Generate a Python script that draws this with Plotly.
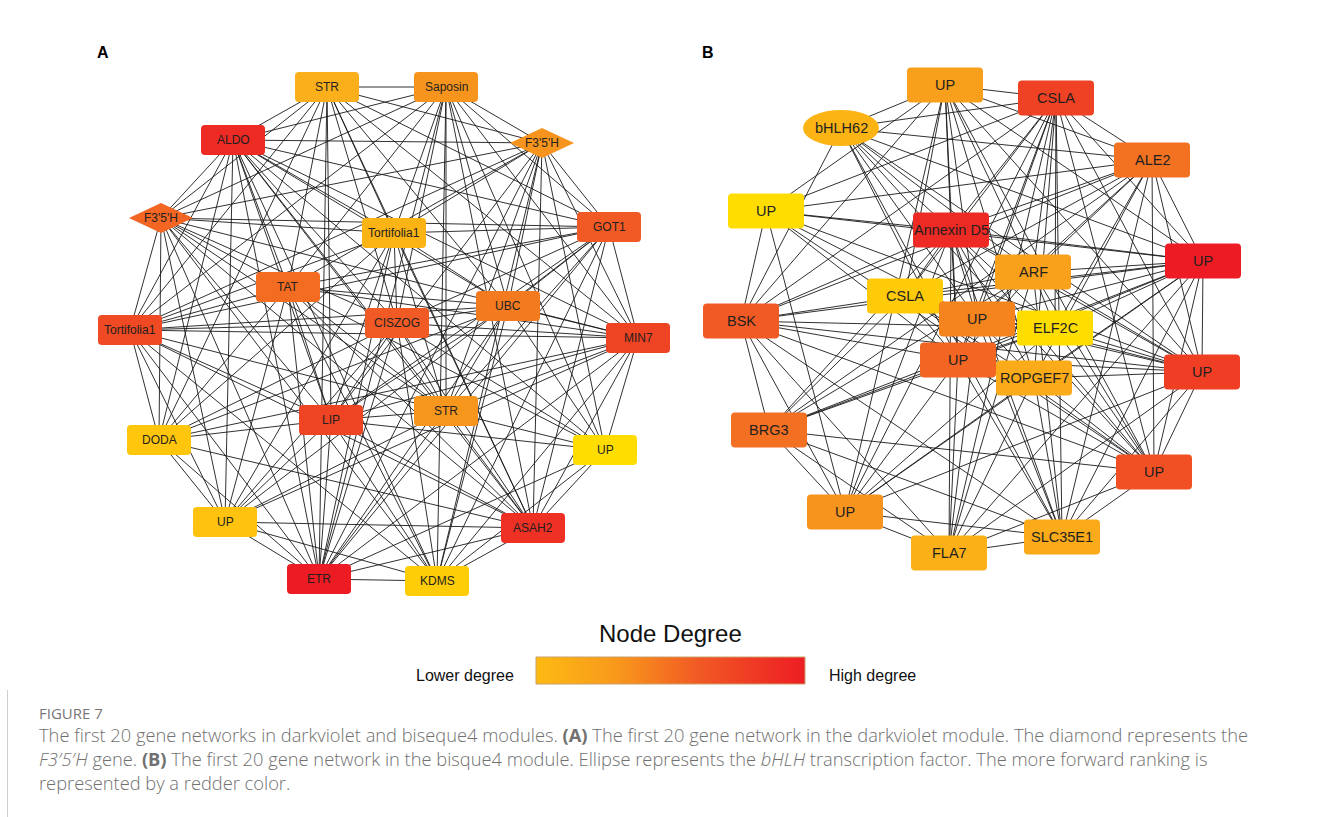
import plotly.graph_objects as go

# ---------------- Panel A: darkviolet module ----------------
A_labels = ["STR", "Saposin", "ALDO", "F3'5'H", "F3'5'H", "Tortifolia1", "GOT1",
            "TAT", "UBC", "Tortifolia1", "CISZOG", "MIN7", "LIP", "STR", "DODA",
            "UP", "UP", "ASAH2", "ETR", "KDMS"]
A_x = [327, 446, 233, 542, 161, 394, 609, 288, 508, 130, 397, 638, 331, 446, 159,
       605, 225, 533, 319, 437]
A_y = [87, 87, 140, 143, 218, 233, 227, 287, 306, 330, 323, 338, 420, 411, 440,
       450, 522, 528, 579, 581]
A_kind = ["rect", "rect", "rect", "diamond", "diamond", "rect", "rect", "rect",
          "rect", "rect", "rect", "rect", "rect", "rect", "rect", "rect", "rect",
          "rect", "rect", "rect"]
# adjacency matrix (row i, column j = 1 when genes i and j are linked)
A_adj = [
    "01111111111110100110",
    "10111111111101010111",
    "11011111111111111111",
    "11101111110111010111",
    "11110111011111101111",
    "11111010111011101110",
    "11111101111111001111",
    "11111010110111111111",
    "11110111011111110011",
    "11111111101111101111",
    "11101110110111111111",
    "11111011111011111111",
    "10111111111101111111",
    "01111101111111011110",
    "10101101111111101110",
    "01110011101111100111",
    "00101111011111100111",
    "11111111011111111011",
    "11111111111111111101",
    "01111011111111001110",
]
A_color = ["#FBB01B", "#F7941D", "#EE2A24", "#F7941D", "#F26522", "#FCB415",
           "#F15A24", "#F36C21", "#F47A20", "#EF4A23", "#F15A24", "#EF4423",
           "#EF4423", "#F7961D", "#FFC60B", "#FFDD00", "#FFC20E", "#EE3124",
           "#ED1C24", "#FFCC08"]

# ---------------- Panel B: bisque4 module ----------------
B_labels = ["UP", "CSLA", "bHLH62", "ALE2", "UP", "Annexin D5", "UP", "ARF", "CSLA",
            "BSK", "UP", "ELF2C", "UP", "ROPGEF7", "UP", "BRG3", "UP", "UP",
            "SLC35E1", "FLA7"]
B_x = [945, 1056, 841, 1152, 766, 951, 1203, 1033, 905, 741, 977, 1055, 958, 1034,
       1202, 769, 1154, 845, 1062, 949]
B_y = [85, 98, 128, 160, 211, 230, 261, 272, 296, 321, 319, 328, 360, 378, 372,
       430, 472, 512, 537, 553]
B_kind = ["rect", "rect", "ellipse", "rect", "rect", "rect", "rect", "rect", "rect",
          "rect", "rect", "rect", "rect", "rect", "rect", "rect", "rect", "rect",
          "rect", "rect"]
B_adj = [
    "01111111111011101100",
    "10111111111111101111",
    "11010111011010101010",
    "11101111111101111010",
    "11010110011010101100",
    "11111011111111111111",
    "11111101111111111111",
    "11110110101110111011",
    "11010111011011111000",
    "11111111010110111111",
    "11111111110111100011",
    "01010111011010111100",
    "11101111101101111111",
    "11010110111010101111",
    "10111111111111101111",
    "01111111110110101111",
    "11011111110111111011",
    "11101110010111111011",
    "01010111011011111101",
    "01100111011011111110",
]
B_color = ["#F8A01B", "#EF4123", "#FCB415", "#F37221", "#FFDD00", "#EE2A24",
           "#ED1C24", "#F9A11B", "#FFCB08", "#F15A24", "#F5841F", "#FFDD00",
           "#F26522", "#FBAA19", "#EF3E23", "#F36F21", "#F15024", "#F7941D",
           "#FBAA19", "#FCB017"]

# legend / text
legend_title = "Node Degree"
legend_low = "Lower degree"
legend_high = "High degree"
degree_scale = [[0.0, "#FDBA12"], [0.3, "#F8981C"], [0.6, "#F15A24"], [1.0, "#ED1C24"]]

caption_head = "FIGURE 7"
caption_lines = [
    "The first 20 gene networks in darkviolet and biseque4 modules. <b>(A)</b> The first 20 gene network in the darkviolet module. The diamond represents the",
    "<i>F3\u20325\u2032H</i> gene. <b>(B)</b> The first 20 gene network in the bisque4 module. Ellipse represents the <i>bHLH</i> transcription factor. The more forward ranking is",
    "represented by a redder color.",
]

W, H = 1329, 817
fig = go.Figure()


def edge_coords(xs, ys, adj):
    ex, ey = [], []
    n = len(xs)
    for i in range(n):
        for j in range(i + 1, n):
            if adj[i][j] == "1":
                ex += [xs[i], xs[j], None]
                ey += [ys[i], ys[j], None]
    return ex, ey


def rrect_path(cx, cy, w, h, r):
    x0, x1, y0, y1 = cx - w / 2, cx + w / 2, cy - h / 2, cy + h / 2
    return (f"M{x0 + r},{y0} L{x1 - r},{y0} Q{x1},{y0} {x1},{y0 + r} "
            f"L{x1},{y1 - r} Q{x1},{y1} {x1 - r},{y1} L{x0 + r},{y1} "
            f"Q{x0},{y1} {x0},{y1 - r} L{x0},{y0 + r} Q{x0},{y0} {x0 + r},{y0} Z")


def diamond_path(cx, cy, w, h):
    return (f"M{cx - w / 2},{cy} L{cx},{cy - h / 2} L{cx + w / 2},{cy} "
            f"L{cx},{cy + h / 2} Z")


shapes, annotations = [], []


def add_network(xs, ys, adj, labels, kinds, colors, bw, bh, fsize):
    ex, ey = edge_coords(xs, ys, adj)
    fig.add_trace(go.Scatter(x=ex, y=ey, mode="lines",
                             line=dict(color="#1a1a1a", width=0.9),
                             hoverinfo="skip", showlegend=False,
                             xaxis="x", yaxis="y"))
    for cx, cy, lab, kind, col in zip(xs, ys, labels, kinds, colors):
        if kind == "rect":
            shapes.append(dict(type="path", path=rrect_path(cx, cy, bw, bh, 4),
                               xref="x", yref="y", fillcolor=col,
                               line=dict(width=0), layer="above"))
        elif kind == "diamond":
            shapes.append(dict(type="path", path=diamond_path(cx, cy, bw, bh),
                               xref="x", yref="y", fillcolor=col,
                               line=dict(width=0), layer="above"))
        else:
            shapes.append(dict(type="circle", xref="x", yref="y",
                               x0=cx - bw / 2, x1=cx + bw / 2,
                               y0=cy - bh / 2 - 0.5, y1=cy + bh / 2 + 0.5,
                               fillcolor=col, line=dict(width=0), layer="above"))
        annotations.append(dict(x=cx, y=cy, xref="x", yref="y", text=lab,
                                showarrow=False,
                                font=dict(family="Liberation Sans, Arial", size=fsize,
                                          color="#231F20")))


add_network(A_x, A_y, A_adj, A_labels, A_kind, A_color, 64, 30, 12)
add_network(B_x, B_y, B_adj, B_labels, B_kind, B_color, 76, 35, 14.5)

# panel letters
for letter, lx in (("A", 103), ("B", 708)):
    annotations.append(dict(x=lx, y=52, xref="x", yref="y", text=f"<b>{letter}</b>",
                            showarrow=False,
                            font=dict(family="Liberation Sans, Arial", size=16,
                                      color="#000000")))

# colour bar for node degree
fig.add_trace(go.Heatmap(z=[[0, 1]], x=[0, 1], y=[0], zsmooth="best",
                         colorscale=degree_scale, showscale=False,
                         hoverinfo="skip", xaxis="x2", yaxis="y2"))
bar_x0, bar_x1, bar_y0, bar_y1 = 536, 805, 657, 684
shapes.append(dict(type="rect", xref="x", yref="y", x0=bar_x0, x1=bar_x1,
                   y0=bar_y0, y1=bar_y1, line=dict(color="#C9A06A", width=1),
                   fillcolor="rgba(0,0,0,0)", layer="above"))
annotations += [
    dict(x=670, y=633, xref="x", yref="y", text=legend_title, showarrow=False,
         font=dict(family="Liberation Sans, Arial", size=24, color="#111111")),
    dict(x=465, y=675, xref="x", yref="y", text=legend_low, showarrow=False,
         font=dict(family="Liberation Sans, Arial", size=16, color="#111111")),
    dict(x=872, y=675, xref="x", yref="y", text=legend_high, showarrow=False,
         font=dict(family="Liberation Sans, Arial", size=16, color="#111111")),
]

# caption: heading plus one multi-line block
annotations.append(dict(x=37, y=713, xref="x", yref="y", text=caption_head,
                        showarrow=False, xanchor="left",
                        font=dict(family="Open Sans", size=15, color="#777777")))
annotations.append(dict(x=37, y=758, xref="x", yref="y",
                        text="<br>".join(caption_lines),
                        showarrow=False, xanchor="left", yanchor="middle",
                        align="left",
                        font=dict(family="Open Sans", size=18.3, weight=300,
                                  color="#707070")))

# thin frame line at the left of the caption
shapes.append(dict(type="line", xref="x", yref="y", x0=7.5, x1=7.5, y0=690, y1=817,
                   line=dict(color="#cfcfcf", width=1)))

fig.update_layout(
    width=W, height=H, margin=dict(l=0, r=0, t=0, b=0),
    paper_bgcolor="white", plot_bgcolor="rgba(0,0,0,0)",
    xaxis=dict(range=[0, W], domain=[0, 1], visible=False, fixedrange=True),
    yaxis=dict(range=[H, 0], domain=[0, 1], visible=False, fixedrange=True),
    xaxis2=dict(range=[0, 1], domain=[bar_x0 / W, bar_x1 / W], visible=False,
                fixedrange=True, anchor="y2"),
    yaxis2=dict(range=[-0.5, 0.5], domain=[1 - bar_y1 / H, 1 - bar_y0 / H],
                visible=False, fixedrange=True, anchor="x2"),
    shapes=shapes, annotations=annotations, showlegend=False,
)

fig.write_html("out.html")
